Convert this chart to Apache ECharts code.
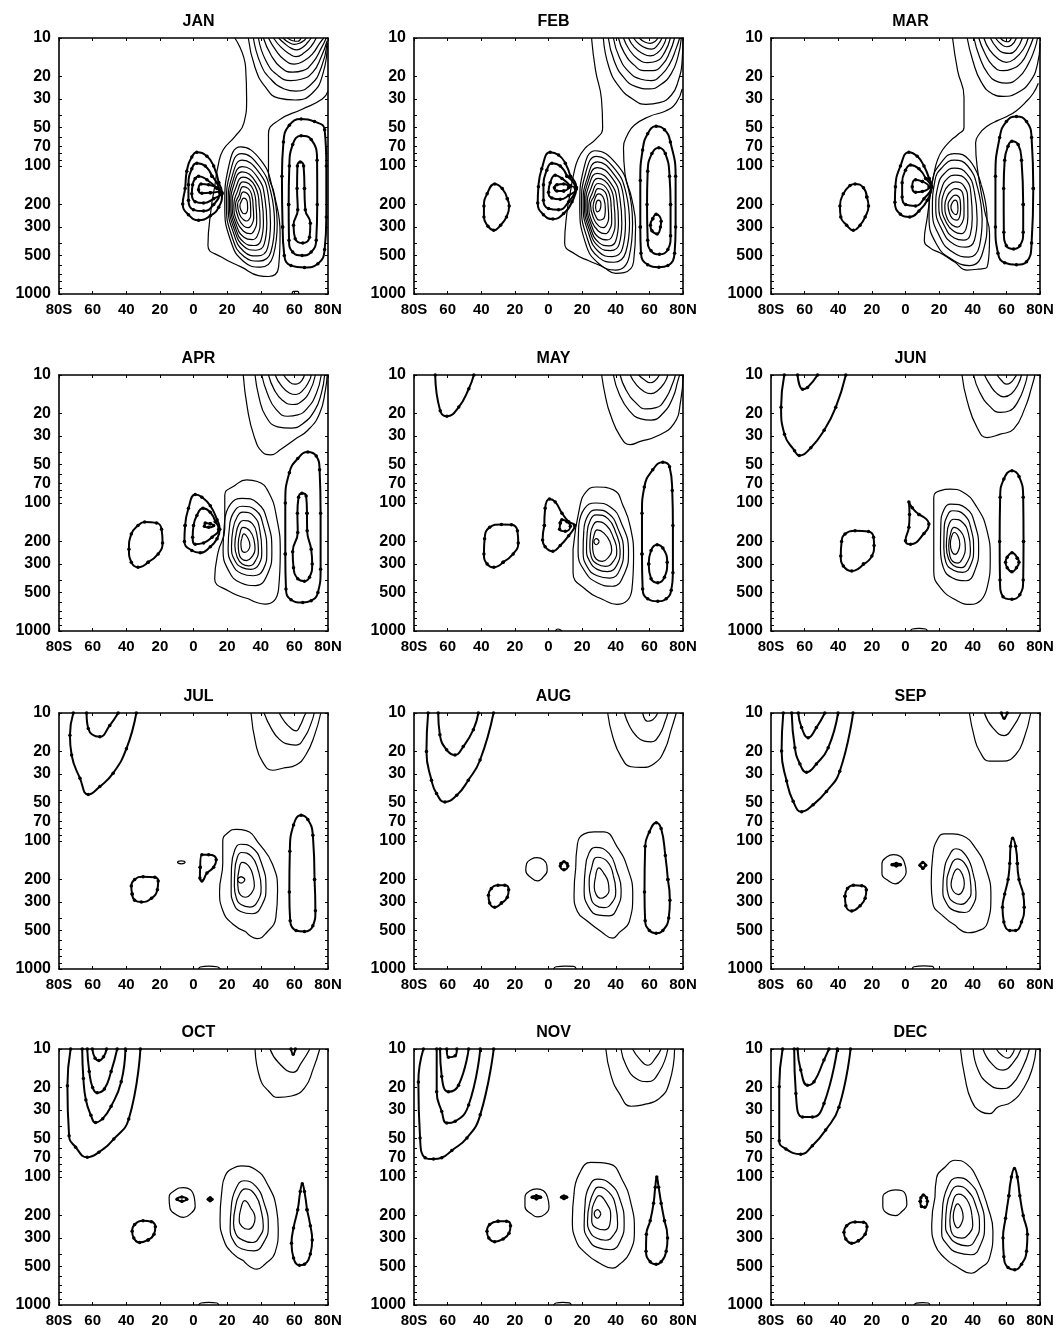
<!DOCTYPE html>
<html><head><meta charset="utf-8">
<script src="https://cdn.jsdelivr.net/npm/echarts@6.0.0/dist/echarts.min.js"></script>
<style>html,body{margin:0;padding:0;background:#fff}#c{width:1063px;height:1338px}</style>
</head><body><div id="c"></div>
<script>
const MONTHS = ['JAN','FEB','MAR','APR','MAY','JUN','JUL','AUG','SEP','OCT','NOV','DEC'];
const LAT_TICKS = [-80,-60,-40,-20,0,20,40,60,80];
const P_LABELS = [10,20,30,50,70,100,200,300,500,1000];
const P_MINOR = [10,20,30,40,50,60,70,80,90,100,200,300,400,500,600,700,800,900,1000];

// contours: each is a list of [latitude (deg, S<0), pressure (hPa)]
const JAN_SOLID = [
 [[24.6,10],[31,17],[31.6,30],[30,46],[24.6,59],[17.6,75],[14.6,100],[12.6,145],[10.6,210],[8.6,418],[16.6,515],[28.6,617],[38.6,718],[44.6,730],[50.6,617],[51.5,338],[48,164],[44.6,114],[44.6,56],[50.6,44],[64.6,36],[76.6,30],[80,26]],
 [[32.6,10],[36.6,17],[42.6,24],[50.6,29.5],[60.6,30.5],[70.6,27],[77,19],[79.6,11]],
 [[35.6,10],[40,16],[46,21],[54,25],[61,26],[70,23],[76,17],[79.5,11]],
 [[38.6,10],[43,15],[50,19.5],[58,21.5],[64,21],[71,18.5],[76,14],[79.5,10.5]],
 [[41.6,10],[46,13.5],[52,17],[59,18.5],[65,18],[71,15.5],[76,12],[79,10]],
 [[44.6,10],[49,12.5],[54,14.8],[60,16],[66,15],[71,13.2],[75,11],[77.5,10]],
 [[47.6,10],[52,11.8],[57,13.3],[61,14],[66,13],[70,11.6],[73,10]],
 [[50.6,10],[54,11],[58,12],[61.5,12.4],[65,11.8],[68,10.8],[70,10]],
 [[53.2,10],[56.5,10.8],[60,11.2],[63,11],[66,10.4],[67,10]],
 [[56,10],[59,10.5],[62,10.6],[64,10]],
 [[28,71],[40,90],[47,150],[49.8,280],[47.5,500],[40,617],[30,560],[22,380],[18.6,200],[21,100],[28,71]],
 [[28.5,80],[39,100],[46,160],[48.2,280],[46,470],[39,553],[30,510],[23,360],[19.6,200],[22,110],[28.5,80]],
 [[29,90],[38.5,110],[44.5,170],[45.8,280],[44,440],[38,504],[30,465],[24,340],[20.6,200],[23,120],[29,90]],
 [[29,101],[38,122],[42.5,180],[43.6,280],[42,410],[37,455],[30,425],[24.5,320],[21.4,200],[23.5,130],[29,101]],
 [[29,111],[37,133],[40.8,190],[41.6,275],[40,385],[36,418],[30,395],[25,305],[22.2,200],[24,140],[29,111]],
 [[29.5,122],[36.5,143],[39,200],[39.6,270],[38,350],[35,376],[30,360],[25.5,290],[23,200],[25,150],[29.5,122]],
 [[29.5,133],[35.5,153],[37.2,205],[37.6,265],[36,320],[33.5,338],[30,325],[26,275],[24,200],[26,160],[29.5,133]],
 [[29.5,145],[34.5,165],[35.5,210],[35.8,255],[34.5,290],[32.5,303],[30,295],[27,260],[25,200],[27,170],[29.5,145]],
 [[29.7,159],[33.5,178],[34,215],[34,245],[33,262],[31.5,269],[29.8,263],[27.5,240],[26.2,200],[27.8,180],[29.7,159]],
 [[29.8,178],[32,192],[32.2,215],[31.5,232],[30,236],[28.5,225],[27.6,205],[28.5,188],[29.8,178]],
 [[58.6,1000],[59.5,955],[62,955],[62.6,1000]]
];
const JAN_DOTTED = [
 [[2,78],[8,84],[12,100],[15,135],[17,165],[15,210],[10,245],[3,265],[-3,240],[-6.4,198],[-5,150],[-4,110],[-1,85],[2,78]],
 [[2,95],[7,100],[11,120],[15.5,160],[12,200],[6,225],[0,220],[-3,185],[-3,140],[-1,105],[2,95]],
 [[3,120],[8,128],[14,150],[17,162],[12,180],[6,195],[1,190],[-1,165],[-0.5,140],[1,125],[3,120]],
 [[4.5,138],[9,140],[16,155],[10,162],[5,163],[3,153],[4.5,138]],
 [[64,43],[72,45],[78,52],[79,100],[79,250],[78,450],[74,580],[66,620],[58,600],[54,500],[53,300],[52.6,120],[53.5,65],[57,48],[64,43]],
 [[64,58],[70,62],[73.5,90],[73.6,200],[73,380],[70,470],[64.6,500],[59,470],[56.8,380],[56.6,200],[57,100],[59,68],[64,58]],
 [[63.5,93],[65.5,100],[66,150],[66.5,220],[69.5,280],[69,360],[65,400],[60.5,370],[59.5,290],[62,220],[61.6,150],[61.8,100],[63.5,93]]
];

const FEB_SOLID = [
 [[25.6,10],[28,18],[31.5,30],[32.2,50],[28,62],[22,72],[17.6,88],[15,115],[13,160],[11,230],[9.6,400],[16,490],[24,550],[32,610],[40,690],[45,680],[50.6,560],[51.8,300],[49.5,180],[45.5,115],[44.6,72],[47,57],[51,48],[60,41],[70,37],[76,32],[79.5,25]],
 [[32.6,10],[36,17],[42,24],[50,30],[58,33],[66,32],[73,28],[77,22],[79.5,15],[80,10]],
 [[35.6,10],[39,15],[45,20.5],[52,24],[60,25],[67,23],[73,19],[77,14],[79,10]],
 [[38.6,10],[42,14],[48,18.5],[55,21],[61,21.5],[67,19.5],[72,16],[76,12],[78,10]],
 [[41.6,10],[45,13],[51,16.3],[57,18],[62,18],[68,16],[72,13],[75,10]],
 [[44.6,10],[48,12.3],[53,14.5],[59,15.6],[64,15.2],[69,13],[72.5,10]],
 [[47.6,10],[51,11.8],[56,13.2],[60.5,13.8],[65,13],[68.5,11.3],[70,10]],
 [[50.6,10],[54,11.2],[58,12],[61.5,12.2],[65,11.3],[67.5,10]],
 [[54,10],[57,10.7],[60.5,11],[63.5,10.6],[65,10]],
 [[28,76],[40,95],[47.5,150],[50,280],[48,510],[40,650],[30,580],[22,400],[18.6,200],[21,105],[28,76]],
 [[28.5,84],[39,104],[46,160],[48.2,280],[46,470],[39,565],[30,520],[23,365],[19.6,200],[22,115],[28.5,84]],
 [[29,93],[38.5,114],[44.5,170],[45.8,280],[44,440],[38,510],[30,470],[24,340],[20.6,200],[23,125],[29,93]],
 [[29,103],[38,125],[42.5,180],[43.6,280],[42,410],[37,458],[30,428],[24.5,320],[21.4,200],[23.5,133],[29,103]],
 [[29,114],[37,136],[40.8,190],[41.6,275],[40,385],[36,420],[30,397],[25,305],[22.2,200],[24,143],[29,114]],
 [[29.5,125],[36.5,146],[39,200],[39.6,270],[38,350],[35,378],[30,362],[25.5,290],[23,200],[25,153],[29.5,125]],
 [[29.5,137],[35.5,157],[37.2,205],[37.6,265],[36,320],[33.5,338],[30,325],[26,275],[24,200],[26,163],[29.5,137]],
 [[29.5,150],[34.5,168],[35.5,210],[35.8,255],[34.5,290],[32.5,303],[30,295],[27,260],[25,200],[27,173],[29.5,150]],
 [[29.7,165],[33,182],[33.8,215],[33.5,245],[32,262],[30,265],[28,245],[26.5,210],[27.5,182],[29.7,165]],
 [[29.6,185],[31.2,200],[30.5,222],[29,228],[28,210],[28.5,192],[29.6,185]]
];
const FEB_DOTTED = [
 [[-32,138],[-27.5,150],[-24.5,180],[-23.4,205],[-25,250],[-28.5,290],[-32.6,318],[-36,295],[-38.4,250],[-38.4,205],[-36.5,165],[-32,138]],
 [[1,78],[6,82],[10,95],[13,120],[16.6,147],[14,190],[9,235],[2.6,260],[-3,240],[-6.4,195],[-6,145],[-4,105],[1,78]],
 [[2,95],[7,100],[11,120],[16,150],[12,190],[6,220],[0,215],[-3,185],[-3,140],[-1,108],[2,95]],
 [[4,118],[8,125],[13,143],[16.5,152],[12,170],[7,182],[2,178],[0,160],[1,135],[4,118]],
 [[5,140],[9,138],[12,147],[9,157],[5,157],[3.5,148],[5,140]],
 [[64,49],[69,52],[72.5,65],[75.6,120],[75.6,300],[75,480],[71,600],[65.6,617],[59,590],[55,480],[54.6,300],[54.6,130],[56,75],[59,56],[64,49]],
 [[65.6,72],[69.5,80],[72,120],[72.6,200],[72.6,350],[71,450],[66,490],[61,460],[59,380],[58.6,200],[59,110],[61.5,80],[65.6,72]],
 [[64,238],[67,270],[66.6,300],[64.6,340],[61.5,320],[60.6,290],[62,258],[64,238]]
];

const MAR_SOLID = [
 [[28,10],[31,18],[34.8,29],[34.8,50],[31,57],[27,63],[22,75],[19,90],[17,114],[15,160],[13,250],[11.2,380],[15,440],[21,480],[29,560],[36.7,650],[43,640],[48.5,617],[50,338],[47,222],[42.6,101],[41.7,66],[44,56],[48.5,49],[55,44],[60.3,41],[66,37],[71.2,32],[76,27],[79,22.6]],
 [[36.7,10],[40,15],[45,22],[52,27.5],[58,28.6],[66,27],[74,22],[78.5,16],[80,11]],
 [[40.7,10],[44,14],[49,19],[55,22],[60,22.5],[67,20.5],[73,16],[77,12],[78.5,10]],
 [[43.6,10],[47,13],[52,16.5],[58,18],[63,17.5],[69,15.5],[73,12.5],[76,10]],
 [[46.6,10],[50,12.4],[55,14.5],[60,15.5],[65,14.5],[70,12.3],[73,10]],
 [[50.5,10],[54,11.8],[58,13],[62,13.2],[66,12.2],[69.5,10]],
 [[53.5,10],[57,11.2],[60,11.7],[63,11.4],[66,10]],
 [[56.4,10],[59,10.6],[61,10.7],[63,10]],
 [[29,80],[38,90],[45,140],[48.5,260],[46,470],[38,600],[28,540],[19,420],[14,250],[16,130],[21,95],[29,80]],
 [[29,90],[37,100],[43,150],[45.6,260],[44,420],[37.5,515],[28,470],[20.5,360],[16,220],[17.5,130],[22,102],[29,90]],
 [[29,104],[36.5,115],[41,160],[42.6,260],[41,380],[36,430],[29,410],[22,320],[18,210],[19.5,140],[23,115],[29,104]],
 [[29.5,118],[36,128],[39,170],[39.7,255],[38.5,345],[34.5,380],[29,365],[23.5,300],[19.8,205],[21.5,150],[25,125],[29.5,118]],
 [[29.5,133],[35,145],[37,185],[37.1,250],[36,310],[33,338],[29,325],[24.5,280],[21.6,205],[23,160],[26,140],[29.5,133]],
 [[29.5,150],[34,163],[34.8,200],[34.8,245],[33.5,280],[31,300],[28,290],[25,260],[23.4,205],[25,170],[27,157],[29.5,150]],
 [[29.5,169],[32.5,185],[32.8,215],[32.5,240],[30.5,265],[28,258],[26,230],[25.3,200],[27,180],[29.5,169]],
 [[29.5,185],[31,198],[31.2,220],[30,240],[28.3,232],[27,210],[28,192],[29.5,185]]
];
const MAR_DOTTED = [
 [[-30,138],[-25,148],[-23,175],[-22,205],[-24,250],[-27,290],[-31,318],[-35,290],[-38.5,250],[-39,205],[-37,165],[-33,142],[-30,138]],
 [[2,78],[7,84],[11,100],[14,125],[15.6,145],[13,185],[8,225],[2.5,250],[-3,238],[-6.3,192],[-6,145],[-3,100],[2,78]],
 [[3,98],[8,105],[12,125],[15.2,148],[11,180],[6,205],[0,200],[-2,175],[-2,135],[0,108],[3,98]],
 [[6,128],[10,132],[14,146],[10,158],[6,160],[4,145],[6,128]],
 [[66,41],[72,45],[75,60],[76,150],[75,400],[72,560],[66,590],[59,570],[55,480],[53.5,300],[53.5,120],[56,60],[60,45],[66,41]],
 [[63.3,64],[67,68],[69,90],[70,200],[70,330],[68,420],[64.3,445],[60,420],[58.5,330],[58.4,150],[59,90],[61,70],[63.3,64]]
];

const APR_SOLID = [
 [[29.6,10],[32,18],[36,30],[41,40],[46,42],[52,38],[60,32],[68,27],[75,20],[78.5,13],[79.5,10]],
 [[36.6,10],[39,15],[43,21],[50,25.4],[58,26],[65,24],[72,19],[76,14],[78,10]],
 [[40.6,10],[44,14],[49,18.5],[56,21],[62,20.5],[68,18],[73,14],[76,10]],
 [[44.6,10],[48,13],[53,15.8],[59,17],[64,16.2],[69,13.5],[72.5,10]],
 [[48.6,10],[52,12],[57,13.8],[61,14.2],[65,13.2],[69,11],[70,10]],
 [[53.6,10],[57,11.3],[60,11.8],[62,11.7],[64.5,11],[66,10]],
 [[31.6,66],[38,68],[44.6,82],[49.6,133],[51.6,243],[50.6,470],[42.6,617],[32.6,560],[20.6,485],[12.6,390],[14.6,243],[18.6,159],[18.6,87],[24.6,73],[31.6,66]],
 [[29,92],[38,100],[44,140],[46.6,240],[44,360],[37,442],[28,420],[21,340],[17.6,230],[18.5,140],[22,102],[29,92]],
 [[29,106],[37,114],[41.5,150],[43.6,240],[41.5,330],[35.5,370],[28.5,355],[23,300],[20.6,225],[21.5,150],[24,118],[29,106]],
 [[29.5,118],[36,127],[39.5,165],[40.6,235],[39,300],[34,330],[29,320],[24.5,280],[22.6,220],[23.5,160],[26,128],[29.5,118]],
 [[29.5,137],[35,145],[37.8,180],[38.6,230],[37,280],[33,310],[29,300],[26,265],[24.6,215],[25.5,170],[27,147],[29.5,137]],
 [[29.5,155],[33.5,165],[36,195],[36.6,230],[35,260],[31.5,282],[28.5,272],[27,245],[26.6,210],[27.5,175],[29.5,155]],
 [[30,174],[32.5,190],[33.6,215],[32.5,235],[30.5,243],[28.6,232],[28.2,208],[28.8,188],[30,174]]
];
const APR_DOTTED = [
 [[-29,141],[-22,143],[-19,160],[-18.4,205],[-21,250],[-27,290],[-33,318],[-37,290],[-38.4,230],[-37,175],[-33,150],[-29,141]],
 [[1,86],[5,90],[10,105],[14,135],[15.6,160],[14,190],[10,220],[4,245],[-1,235],[-5.4,200],[-5,150],[-3,110],[1,86]],
 [[5.6,110],[10,118],[13,140],[15,160],[11,185],[6,205],[1,210],[-0.5,185],[0,150],[2,125],[5.6,110]],
 [[7,143],[10,145],[12,150],[9,155],[6.5,152],[7,143]],
 [[68,40],[73,43],[75,55],[75.6,120],[75.6,330],[74,500],[70,580],[65,600],[58,570],[55,470],[54.6,250],[54.6,100],[57,58],[62,45],[68,40]],
 [[64.5,84],[67,88],[67.5,120],[67.6,165],[70,230],[70.6,300],[69,380],[66,408],[62,390],[59.5,320],[59,240],[62,170],[61.8,120],[62.5,90],[64.5,84]]
];

const MAY_SOLID = [
 [[31.6,10],[34,15],[36.6,20],[42.6,30],[48.6,35],[54.6,33],[64.6,30],[74.6,24],[78.6,16],[80,10]],
 [[38.6,10],[42,14],[48,19],[55,22],[61,22.5],[68,20],[74,15],[77,11],[78,10]],
 [[42.6,10],[46,13],[52,16.5],[58,18.4],[64,18],[70,15],[74,11.5],[75.5,10]],
 [[48.6,10],[52,11.8],[57,13.5],[61,14],[65,13.2],[69,11.5],[71,10]],
 [[53.6,10],[57,10.9],[60.5,11.5],[63,11.2],[66,10]],
 [[28.6,75],[38.6,79],[44.6,107],[48.6,152],[50.6,260],[49.6,475],[40.6,620],[32.6,570],[22.6,480],[14.6,350],[14.6,230],[18.6,107],[22.6,81],[28.6,75]],
 [[28,100],[37,108],[43,140],[47.6,240],[45,360],[38,447],[29,420],[21.5,340],[17.6,240],[18,150],[21.5,110],[28,100]],
 [[28.5,113],[36,122],[41,155],[44.6,235],[42.5,330],[36.5,386],[29,370],[23,315],[20.6,235],[21,165],[23.5,125],[28.5,113]],
 [[28.5,124],[35.5,133],[40,170],[42.6,235],[41,300],[35,344],[29,330],[24.5,285],[22.6,230],[23,170],[25,135],[28.5,124]],
 [[29,140],[34.5,150],[38.5,185],[40.6,235],[39,280],[34,313],[29,300],[25.5,265],[24.6,220],[25,175],[26.5,150],[29,140]],
 [[29,162],[33,172],[36.5,200],[37.6,235],[36,262],[32,286],[28.5,275],[26.6,245],[26.2,212],[27,180],[29,162]],
 [[28.6,190],[30.2,200],[28.6,212],[27,200],[28.6,190]],
 [[4,1000],[5.6,965],[8,1000]]
];
const MAY_DOTTED = [
 [[-67.4,10],[-64.4,19],[-60.4,21],[-53.4,17.8],[-47.4,12.8],[-44.4,10]],
 [[-28,147],[-22,148],[-18.5,165],[-18,205],[-21,250],[-27,290],[-32.5,318],[-36.5,300],[-38.4,250],[-38,190],[-35,155],[-28,147]],
 [[0.6,93],[4,98],[8,120],[12,140],[15.6,150],[12,180],[7,215],[2.6,238],[-2,220],[-3.5,195],[-2.5,150],[-2,110],[0.6,93]],
 [[8,135],[11,140],[13,152],[10,166],[6.6,160],[7,143],[8,135]],
 [[68,48],[72,52],[73.6,80],[74,150],[74,350],[73,480],[70,560],[65,585],[59,560],[56,470],[55.6,250],[55.6,120],[57,75],[62,55],[68,48]],
 [[64.6,212],[68,225],[70.6,290],[69,380],[65,420],[61,390],[59.6,300],[61,235],[64.6,212]]
];

const JUN_SOLID = [
 [[33.6,10],[36.6,15.8],[42.5,25.6],[48.5,30.8],[56.4,29],[64.3,26.5],[71.2,17.9],[75,12.5],[77,10]],
 [[40.5,10],[44,13.5],[50,17.5],[56.4,19.6],[62,19],[67,16],[71,12],[72.5,10]],
 [[47,10],[50,11.8],[54,13.8],[58.5,14.8],[63,14],[67,11.8],[69,10]],
 [[54.5,10],[57,11],[60,11.8],[62.5,11.5],[65,10.5],[66,10]],
 [[26.7,78],[34,82],[42.5,108],[48.5,165],[50.4,268],[48.5,460],[38.6,620],[30.7,580],[20.8,460],[16.8,340],[16.8,197],[16.8,90],[20.8,80],[26.7,78]],
 [[27,102],[36,110],[41.5,150],[43.5,230],[41.5,330],[36,405],[28,385],[22.5,320],[20.8,230],[21,150],[23,112],[27,102]],
 [[28,115],[35,124],[39,160],[40.5,230],[39,300],[34,348],[28.5,335],[24,290],[22.8,225],[23,160],[25,125],[28,115]],
 [[28.5,134],[34,142],[37.5,175],[38.6,230],[37,285],[33,320],[28.5,308],[25.5,270],[24.3,220],[24.8,170],[26,145],[28.5,134]],
 [[29,155],[32.5,165],[35,190],[35.6,230],[34,270],[31,295],[28,285],[26.3,255],[25.7,215],[26.5,180],[29,155]],
 [[29,170],[31.5,185],[32.3,210],[31.5,235],[29.5,252],[27.5,238],[26.7,210],[27.3,185],[29,170]],
 [[3,1000],[4,965],[8,955],[12,965],[13,1000]]
];
const JUN_DOTTED = [
 [[-72.1,10],[-74,17.9],[-72,29],[-66,39],[-63.2,42.5],[-56.3,37],[-48.4,27],[-41.5,17.9],[-35.5,10]],
 [[-64.2,10],[-61.2,12.9],[-58.3,12.5],[-52.3,10]],
 [[-30,165],[-22,167],[-19,185],[-18.7,215],[-20,260],[-25,300],[-32,340],[-37,310],[-38.5,260],[-38,200],[-36,175],[-30,165]],
 [[2,98],[4,109],[8,123],[13.9,146],[11,173],[3,210],[0,197],[2,155],[2.4,123],[2,98]],
 [[63.3,56],[67.5,62],[70,90],[70.2,200],[70,400],[68,520],[63.3,565],[58,540],[56.2,400],[56,200],[56.3,90],[58.5,65],[63.3,56]],
 [[63.3,245],[66.5,270],[67.5,290],[66,320],[63.3,345],[60.5,320],[59.5,290],[60.5,265],[63.3,245]]
];

const JUL_SOLID = [
 [[34.2,10],[37.2,17.8],[41,24],[47,28],[53,27],[61,25.5],[67,21],[72,14.9],[75.7,10]],
 [[42,10],[46,13],[51,16],[57,17.6],[61,17.8],[66,15.5],[70,12],[71.8,10]],
 [[51,10],[54,11.6],[57.5,13],[61,13.8],[63.5,12.5],[66,10.5],[67,10]],
 [[25.3,81],[31.3,83],[39.2,106],[47,152],[50,245],[49,395],[43,528],[38,578],[31,510],[23.3,445],[17.4,349],[15.5,245],[17.4,150],[17.4,100],[21,85],[25.3,81]],
 [[28,106],[35,113],[40.5,150],[43.1,230],[41,310],[35,370],[28,355],[24,310],[22.4,240],[22.6,160],[24.5,118],[28,106]],
 [[28.5,123],[34.5,132],[38.5,170],[40.2,230],[38.5,290],[33.5,328],[28.5,315],[25.5,280],[24.3,225],[24.6,170],[26,135],[28.5,123]],
 [[29,147],[33,158],[35.5,190],[36.2,225],[34.5,255],[31,275],[28,265],[26.6,240],[26.3,205],[27,170],[29,147]],
 [[28.3,190],[30.5,200],[28.3,213],[26.2,200],[28.3,190]],
 [[-9.5,147],[-7.3,143],[-5,147],[-7.3,151],[-9.5,147]],
 [[3,1000],[4,965],[9,950],[14,960],[16,1000]]
];
const JUL_DOTTED = [
 [[-71.5,10],[-73.5,14.9],[-72.5,21.3],[-67.5,32.4],[-62.6,43.4],[-55.7,37.5],[-47.8,29.5],[-39.9,19],[-34,10]],
 [[-63.6,10],[-62.6,13.2],[-55.7,15.3],[-49.8,12.5],[-44.8,10]],
 [[-30,190],[-23,192],[-21,205],[-21.5,240],[-25,280],[-31,300],[-35,290],[-36.5,260],[-37,225],[-35,200],[-30,190]],
 [[5,128],[9,128],[13.5,140],[12,160],[8,178],[5,205],[3.8,195],[4,160],[5,128]],
 [[64,63],[68,68],[71,90],[72,200],[72.5,350],[71,460],[66,510],[61,500],[57.5,420],[57,250],[57.3,120],[59.5,75],[64,63]]
];

const AUG_SOLID = [
 [[35.2,10],[38.2,15.3],[43.2,22],[49.1,26.3],[55.1,26.6],[63,24.8],[69,19.5],[73,13.5],[76,10]],
 [[45.1,10],[48,12.5],[52,15],[57,16.6],[61,16.8],[66,14.8],[69.5,11.5],[71,10]],
 [[56,10],[59,11.6],[62,11.3],[65,10]],
 [[27.2,85],[33,85],[41,112],[47,162],[50.1,261],[48.1,424],[42,520],[38.2,574],[31.2,509],[23.2,424],[17.2,355],[15.2,261],[16.2,162],[17.2,106],[21.2,88],[27.2,85]],
 [[28,112],[36,125],[40.5,170],[43.2,240],[41,330],[36,385],[30,380],[24,330],[21.2,240],[22,160],[24,125],[28,112]],
 [[29,134],[35,145],[38.5,185],[40,245],[38,300],[33,332],[28,318],[25,270],[24.2,220],[25.5,165],[29,134]],
 [[30,162],[33,180],[35.5,210],[36,245],[34,270],[31,280],[28.5,265],[27.2,230],[28,190],[30,162]],
 [[-7,135],[-3,140],[-1,155],[-0.8,170],[-3,190],[-6.5,205],[-10,195],[-13.5,170],[-13,150],[-10,138],[-7,135]],
 [[3,1000],[4.5,960],[10,948],[15,955],[16.5,1000]]
];
const AUG_DOTTED = [
 [[9.2,145],[11,150],[11.5,157],[9.2,168],[7,157],[7.5,150],[9.2,145]],
 [[-71.6,10],[-72.6,20],[-69.6,33.5],[-66.6,42.6],[-61.6,49.6],[-54.6,44],[-47.7,33.5],[-40.7,23.3],[-32.7,10]],
 [[-65.6,10],[-64.6,14.8],[-60.6,19.4],[-55.6,21.3],[-50.7,18.3],[-44.7,13.5],[-41.7,10]],
 [[-30,222],[-26,222],[-23.7,240],[-24.5,275],[-28,305],[-32,330],[-35,305],[-35.7,265],[-34,235],[-30,222]],
 [[64.1,72],[67,80],[69.5,130],[71,200],[72.2,290],[71.5,400],[68,500],[64,525],[60,500],[57.5,420],[57.1,250],[57.5,110],[60,85],[64.1,72]]
];

const SEP_SOLID = [
 [[38,10],[41,15.6],[44,19.8],[50,23.8],[57.8,23.8],[65.7,21],[70.6,15.6],[74.5,10]],
 [[46.9,10],[51.8,13],[58.7,15],[63.7,13],[68.6,10]],
 [[28.1,88],[34,91],[41.9,115],[47.9,165],[50.8,268],[48.9,430],[42,510],[37,521],[30,460],[22.2,385],[16.2,305],[15.3,211],[16.2,130],[19.2,96],[23.2,88],[28.1,88]],
 [[30,115],[36,130],[40,175],[41.9,250],[40,320],[35,362],[29,350],[24,300],[22.2,240],[23,170],[26,130],[30,115]],
 [[31,138],[36,155],[38.5,200],[39,250],[37,290],[33,313],[28.5,300],[25.5,265],[24.6,220],[26,170],[31,138]],
 [[31,165],[34,185],[35,215],[34,245],[31.5,262],[28.5,248],[27.1,220],[28,190],[31,165]],
 [[-7,128],[-3,132],[-0.5,150],[0.4,175],[-2,200],[-6,216],[-10,205],[-14,180],[-14,150],[-11,133],[-7,128]],
 [[4,1000],[5,960],[11,945],[16,955],[17,1000]]
];
const SEP_DOTTED = [
 [[57,10],[58.7,11],[60.5,10]],
 [[-8,153],[-5.5,150],[-3,153],[-5.5,156],[-8,153]],
 [[10.3,147],[12,155],[10.3,163],[8.6,155],[10.3,147]],
 [[-72.7,10],[-73.7,19.8],[-70.7,34],[-66.8,49],[-61.8,59],[-54.9,52],[-47,41],[-39.1,28.5],[-31.2,10]],
 [[-67.7,10],[-65.8,18.7],[-62.8,25],[-58.9,29],[-53,25],[-46,18.7],[-40.1,10]],
 [[-63.8,10],[-61.8,13],[-57.9,15.6],[-53,13],[-48,10]],
 [[-31,222],[-26,224],[-23.3,240],[-24,280],[-27,320],[-32,352],[-35.5,320],[-36,270],[-34.5,235],[-31,222]],
 [[63.7,95],[65.5,110],[66.5,150],[67.5,200],[70,260],[70.6,330],[69,430],[65.5,500],[62,500],[58.5,430],[57.7,330],[59,260],[61,200],[62,150],[62.5,110],[63.7,95]]
];

const OCT_SOLID = [
 [[36.6,10],[39.6,17],[44.5,21.2],[50.4,23.9],[58.3,23.3],[66.2,20],[71.2,14.3],[75.1,10]],
 [[45.5,10],[50.4,12.7],[59.3,15.2],[64.3,12.7],[69.2,10]],
 [[28.7,82],[36.6,87],[44.5,117],[49.4,178],[50.4,255],[48.5,390],[42.5,480],[37.6,525],[29.7,450],[22.8,390],[17.8,305],[15.8,212],[16.8,132],[18.8,98],[23.8,85],[28.7,82]],
 [[30,107],[37,118],[42,160],[44.5,240],[42,320],[36,378],[29,365],[24,320],[21.8,250],[22.5,170],[25,125],[30,107]],
 [[31,124],[37,140],[40.5,190],[41.5,240],[39.5,290],[35,325],[29,310],[25,275],[23.8,230],[25,170],[27.5,135],[31,124]],
 [[30.5,153],[34,175],[36.6,210],[35.5,240],[32.5,256],[29,245],[27.2,215],[28,180],[30.5,153]],
 [[-6,121],[-2,125],[0.5,145],[1,170],[-2,195],[-6,207],[-10,198],[-14,175],[-14.5,145],[-11,127],[-6,121]],
 [[3,1000],[4.5,965],[9,955],[14,965],[15,1000]]
];
const OCT_DOTTED = [
 [[58,10],[59.3,11],[60.6,10]],
 [[-9.8,149],[-6.9,143],[-4,149],[-6.9,155],[-9.8,149]],
 [[9.9,146],[11,149],[9.9,153],[8.8,149],[9.9,146]],
 [[-73.1,10],[-75,19.4],[-74,47.6],[-70.1,58.5],[-63.2,70],[-56.3,64],[-47.4,50.5],[-38.5,35.2],[-31.6,10]],
 [[-66.2,10],[-65.5,17],[-64,25],[-61,33],[-58.3,37.5],[-54,35],[-49,28],[-43,18],[-40.5,10]],
 [[-63.2,10],[-62,15],[-60,20],[-57.3,22],[-53,20.5],[-49,15],[-45.4,10]],
 [[-60.2,10],[-58.5,11.8],[-56.3,12.3],[-53.5,11.5],[-51.7,10]],
 [[-30,220],[-25,224],[-22.7,245],[-23.5,280],[-27,310],[-32,325],[-35.5,300],[-36.5,265],[-35,235],[-30,220]],
 [[64.7,113],[66,130],[67.5,180],[69.5,240],[70.6,310],[69.5,400],[66,480],[63,490],[59.5,430],[58.3,330],[59.5,250],[62,180],[63.5,130],[64.7,113]]
];

const NOV_SOLID = [
 [[34.1,10],[37.1,16],[42.1,22.2],[49.1,28],[56.1,27.3],[66,24.3],[72,18.1],[75,10]],
 [[43.1,10],[46.1,13.4],[52.1,17],[59,18],[66,15],[71,10]],
 [[50,10],[54,11.9],[59,13.4],[64,11.6],[67,10]],
 [[25.2,77],[36.1,79],[44.1,107],[49.1,162],[51.1,259],[48.1,395],[42.1,483],[38.1,515],[30.2,469],[22.2,395],[16.2,310],[14.2,217],[15.2,135],[18.2,95],[25.2,77]],
 [[29,104],[37,114],[42.5,150],[45,230],[43,310],[37,370],[29,355],[24,310],[21.2,240],[21.8,160],[24,120],[29,104]],
 [[29.5,120],[36,132],[40,170],[41.1,230],[39,280],[34,312],[28.5,300],[24.5,265],[23.2,220],[24.5,160],[27,130],[29.5,120]],
 [[30,140],[34.5,160],[37,200],[36.5,235],[33.5,259],[28.5,250],[25.7,220],[26,175],[28,150],[30,140]],
 [[29.2,180],[31.2,194],[29.2,210],[27.2,194],[29.2,180]],
 [[-7,124],[-3,128],[-0.5,145],[0.3,170],[-2,195],[-6.5,205],[-10,195],[-14,170],[-14,145],[-11,128],[-7,124]],
 [[3,1000],[4.5,965],[8.5,955],[12.5,962],[13.5,1000]]
];
const NOV_DOTTED = [
 [[-9.7,144],[-7.2,140],[-4.7,144],[-7.2,148],[-9.7,144]],
 [[7.8,144],[9.2,141],[10.8,144],[9.2,147],[7.8,144]],
 [[-74.4,10],[-77.4,18.1],[-76.4,49.5],[-73.4,70.7],[-68.4,72.5],[-63.5,70.7],[-57.5,62],[-48.5,49.5],[-40.6,32.7],[-32.6,10]],
 [[-66.5,10],[-66.5,21.6],[-63.5,30.8],[-60.5,37.9],[-55.5,36.7],[-47.5,27.4],[-40.6,10]],
 [[-64.5,10],[-63.5,16.4],[-59.5,21.6],[-53.5,19.2],[-47.5,10]],
 [[-60.5,10],[-59.5,11.6],[-55.5,11.3],[-54.5,10]],
 [[-30,222],[-25,222],[-22.6,240],[-23.5,275],[-27,305],[-32,320],[-35.5,300],[-36.6,265],[-35,235],[-30,222]],
 [[64.4,100],[65.5,120],[67,160],[69,220],[70.8,300],[70,380],[67,460],[64,480],[60.5,460],[58,380],[58.2,280],[60.5,220],[62.5,160],[63.5,120],[64.4,100]]
];

const DEC_SOLID = [
 [[32.7,10],[35.3,16.5],[39.2,25.2],[45.1,31],[50,32],[55,28.4],[62.9,26],[70.7,19.8],[75.7,13.8],[77.6,10]],
 [[40.2,10],[43.2,14.6],[49.1,18.6],[57,20.4],[62.9,19.2],[69.8,13.8],[73.7,10]],
 [[46.1,10],[51,12.9],[57.9,14.6],[63.8,12.9],[68.8,10]],
 [[54,10],[57,11.1],[60.9,11.8],[63.8,10.8],[64.8,10]],
 [[29.4,74],[36.3,79],[43.2,107],[49.1,174],[52,265],[50,428],[43.2,530],[39.2,565],[30.3,500],[23.4,430],[17.5,337],[15.6,235],[17.5,145],[18.5,101],[23.4,84],[29.4,74]],
 [[31,101],[38,110],[44,150],[47,240],[45,330],[39,405],[31,390],[25,340],[21.5,270],[22,180],[25,120],[31,101]],
 [[31,118],[37,128],[42,170],[44,240],[42,300],[37,345],[30.5,330],[26,290],[23.8,240],[24.5,170],[27,132],[31,118]],
 [[31.5,136],[36.5,150],[39.5,200],[40,240],[37.5,280],[33.5,300],[29,290],[27,260],[26.4,220],[27.5,170],[31.5,136]],
 [[31,162],[33.5,180],[34.3,205],[33,235],[31,250],[29.3,235],[28.4,205],[29,180],[31,162]],
 [[-6,126],[-2,128],[0.5,145],[0.8,165],[-2,185],[-6,200],[-10,195],[-13.5,170],[-13.5,145],[-10.5,130],[-6,126]],
 [[5,1000],[6.5,968],[10,958],[13.5,965],[14.5,1000]]
];
const DEC_DOTTED = [
 [[10.6,138],[12.5,145],[13,155],[11.5,172],[9.5,170],[8.8,155],[9.2,145],[10.6,138]],
 [[-73.1,10],[-75.1,19.7],[-75.1,52],[-71.1,60.5],[-62.3,66.3],[-55.4,57],[-47.5,43],[-39.6,28.5],[-32.7,10]],
 [[-66.2,10],[-65.2,22.3],[-61.3,34],[-55.4,34],[-48.5,26.7],[-40.6,10]],
 [[-64.2,10],[-62.3,14.6],[-58.3,19.2],[-54.4,18],[-48.5,12.2],[-45.5,10]],
 [[-30,225],[-25,226],[-22.9,245],[-24,280],[-28,315],[-32,330],[-35.5,305],[-36.6,270],[-35,240],[-30,225]],
 [[64.8,86],[66.5,100],[68,140],[70,200],[72.5,280],[72,380],[69,480],[65,530],[61,510],[58.5,420],[58,300],[59.5,210],[61.5,140],[63,100],[64.8,86]]
];

const SOLID = [JAN_SOLID,FEB_SOLID,MAR_SOLID,APR_SOLID,MAY_SOLID,JUN_SOLID,JUL_SOLID,AUG_SOLID,SEP_SOLID,OCT_SOLID,NOV_SOLID,DEC_SOLID];
const DOTTED = [JAN_DOTTED,FEB_DOTTED,MAR_DOTTED,APR_DOTTED,MAY_DOTTED,JUN_DOTTED,JUL_DOTTED,AUG_DOTTED,SEP_DOTTED,OCT_DOTTED,NOV_DOTTED,DEC_DOTTED];

// layout
const COL_LEFT = [59, 414, 771];
const ROW_TOP = [38, 375, 713, 1049];
const W = 269, H = 256;
const FONT = '"Liberation Sans", Arial, Helvetica, sans-serif';
const lg = p => Math.log10(p);
const latFmt = v => v === -80 ? '80S' : v === 80 ? '80N' : String(Math.abs(v));

// closed loops: start the ring at its straightest vertex so the smoothed curve has no visible seam
function prep(c) {
  const pts = c.map(d => [d[0], lg(d[1])]);
  const n = pts.length;
  const closed = n > 3 && pts[0][0] === pts[n - 1][0] && pts[0][1] === pts[n - 1][1];
  if (!closed) return pts;
  const ring = pts.slice(0, n - 1), m = ring.length;
  let best = 0, bestA = Infinity;
  for (let j = 0; j < m; j++) {
    const a = ring[(j - 1 + m) % m], b = ring[j], e = ring[(j + 1) % m];
    const v1 = [(b[0] - a[0]) * 1.68, (b[1] - a[1]) * 128];
    const v2 = [(e[0] - b[0]) * 1.68, (e[1] - b[1]) * 128];
    const ang = Math.abs(Math.atan2(v1[0] * v2[1] - v1[1] * v2[0], v1[0] * v2[0] + v1[1] * v2[1]));
    if (ang < bestA) { bestA = ang; best = j; }
  }
  const out = ring.slice(best).concat(ring.slice(0, best));
  out.push(out[0]);
  return out;
}

const grid = [], xAxis = [], yAxis = [], title = [], series = [];
MONTHS.forEach((m, i) => {
  const col = i % 3, row = Math.floor(i / 3);
  const left = COL_LEFT[col], top = ROW_TOP[row];
  grid.push({left: left, top: top, width: W, height: H, containLabel: false});
  title.push({text: m, left: left + W / 2, top: top - 29, textAlign: 'center',
    textStyle: {fontFamily: FONT, fontWeight: 'bold', fontSize: 16, color: '#000'}});
  const axLine = {show: true, onZero: false, lineStyle: {color: '#000', width: 1.6}};
  const tick = {show: true, inside: true, length: 3, lineStyle: {color: '#000', width: 1}};
  const xlab = {color: '#000', fontFamily: FONT, fontWeight: 'bold', fontSize: 15};
  const ylab = {color: '#000', fontFamily: FONT, fontWeight: 'bold', fontSize: 16};
  xAxis.push({gridIndex: i, type: 'value', min: -80, max: 80, interval: 20, position: 'bottom',
    axisLine: axLine, axisTick: tick, splitLine: {show: false},
    axisLabel: Object.assign({formatter: latFmt, margin: 8}, xlab)});
  xAxis.push({gridIndex: i, type: 'value', min: -80, max: 80, interval: 20, position: 'top',
    axisLine: axLine, axisTick: tick, splitLine: {show: false}, axisLabel: {show: false}});
  yAxis.push({gridIndex: i, type: 'value', min: 1, max: 3, inverse: true, position: 'left',
    axisLine: axLine, splitLine: {show: false},
    axisTick: Object.assign({customValues: P_MINOR.map(lg)}, tick),
    axisLabel: Object.assign({customValues: P_LABELS.map(lg), margin: 8,
      formatter: v => String(Math.round(Math.pow(10, v)))}, ylab)});
  yAxis.push({gridIndex: i, type: 'value', min: 1, max: 3, inverse: true, position: 'right',
    axisLine: axLine, splitLine: {show: false},
    axisTick: Object.assign({customValues: P_MINOR.map(lg)}, tick),
    axisLabel: {show: false}});
  SOLID[i].forEach(c => series.push({type: 'line', xAxisIndex: 2 * i, yAxisIndex: 2 * i,
    data: prep(c), smooth: 0.5, showSymbol: false, silent: true,
    lineStyle: {color: '#000', width: 1.2}}));
  DOTTED[i].forEach(c => series.push({type: 'line', xAxisIndex: 2 * i, yAxisIndex: 2 * i,
    data: prep(c), smooth: 0.5, showSymbol: true, symbol: 'circle', symbolSize: 3.5,
    silent: true, itemStyle: {color: '#000'}, lineStyle: {color: '#000', width: 2}}));
});

const chart = echarts.init(document.getElementById('c'), null, {renderer: 'canvas'});
chart.setOption({backgroundColor: '#fff', animation: false, title, grid, xAxis, yAxis, series});
</script>
</body></html>
